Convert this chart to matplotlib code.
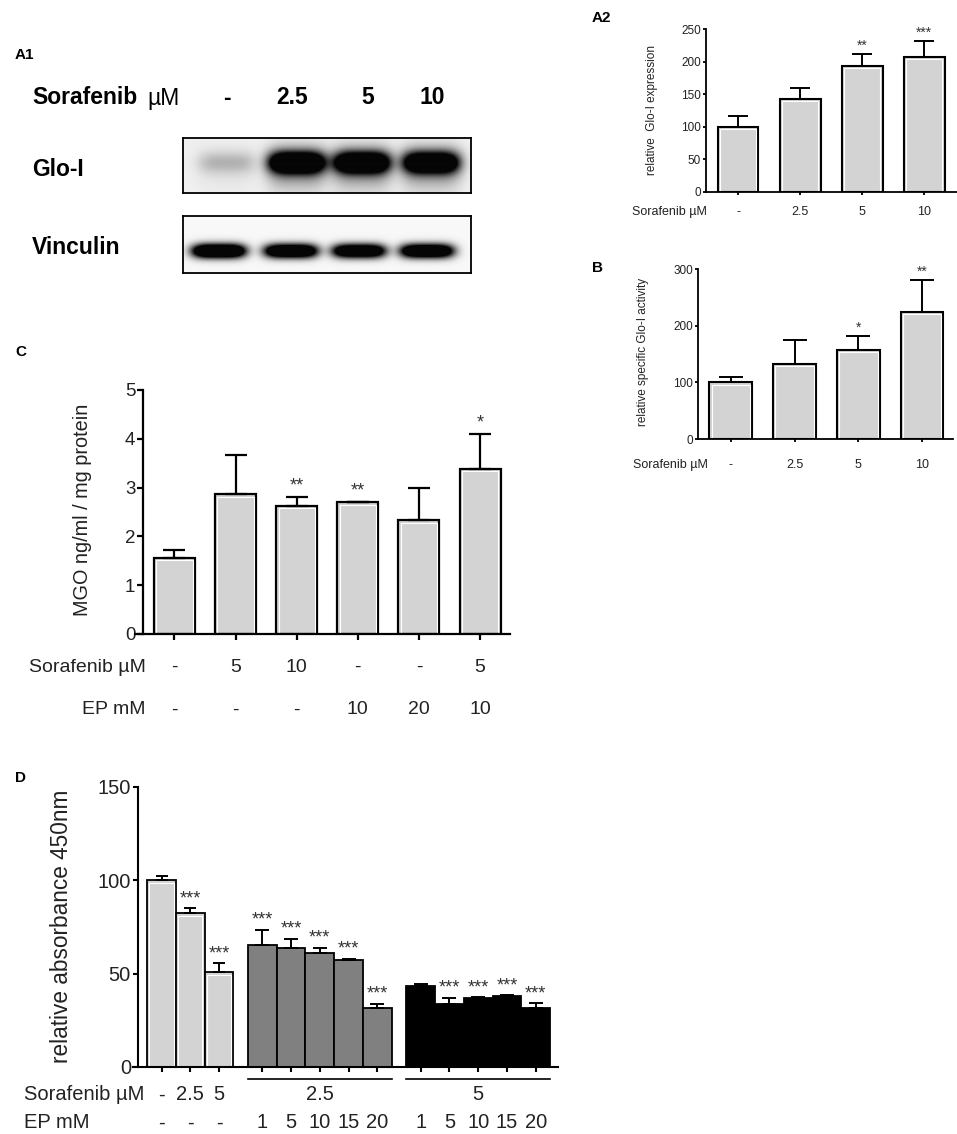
import numpy as np
import matplotlib
matplotlib.use('Agg')
import matplotlib.pyplot as plt
from matplotlib import transforms

plt.rcParams['font.family'] = ['Liberation Sans', 'DejaVu Sans']

# ---------------- data ----------------
a1_lanes = ["-", "2.5", "5", "10"]
glo_band_intensity = [0.13, 1.0, 0.97, 0.93]
vinculin_band_intensity = [1.0, 0.92, 0.88, 0.92]

a2_labels = ["-", "2.5", "5", "10"]
a2_mean = [100, 143, 194, 207]
a2_sem = [16, 16, 18, 25]
a2_sig = ["", "", "**", "***"]

b_labels = ["-", "2.5", "5", "10"]
b_mean = [100, 133, 157, 224]
b_sem = [9, 41, 25, 57]
b_sig = ["", "", "*", "**"]

c_sorafenib = ["-", "5", "10", "-", "-", "5"]
c_ep = ["-", "-", "-", "10", "20", "10"]
c_mean = [1.56, 2.86, 2.62, 2.70, 2.33, 3.38]
c_sem = [0.16, 0.81, 0.18, 0.0, 0.67, 0.72]
c_sig = ["", "", "**", "**", "", "*"]

d_g1_sorafenib = ["-", "2.5", "5"]
d_g1_ep = ["-", "-", "-"]
d_g1_mean = [100, 82.3, 50.7]
d_g1_sem = [2.5, 2.7, 5.0]
d_g1_sig = ["", "***", "***"]

d_g2_sorafenib = "2.5"
d_g2_ep = ["1", "5", "10", "15", "20"]
d_g2_mean = [65.3, 63.7, 61.2, 57.3, 31.4]
d_g2_sem = [8.3, 5.0, 2.7, 0.7, 2.5]
d_g2_sig = ["***", "***", "***", "***", "***"]

d_g3_sorafenib = "5"
d_g3_ep = ["1", "5", "10", "15", "20"]
d_g3_mean = [43.6, 33.6, 36.8, 38.0, 31.8]
d_g3_sem = [0.7, 3.5, 0.5, 0.4, 2.3]
d_g3_sig = ["", "***", "***", "***", "***"]

# ---------------- figure helpers ----------------
W, H = 957, 1134
fig = plt.figure(figsize=(W / 100, H / 100), dpi=100)
PX = 0.72  # points per pixel


def fx(x):
    return x / W


def fy(y):
    return 1 - y / H


def axes_px(x0, y_top, x1, y_bot):
    return fig.add_axes([fx(x0), fy(y_bot), (x1 - x0) / W, (y_bot - y_top) / H])


def style(ax, lw, fs, ylen, ypad):
    for s in ['top', 'right']:
        ax.spines[s].set_visible(False)
    for s in ['left', 'bottom']:
        ax.spines[s].set_linewidth(lw)
        ax.spines[s].set_zorder(5)
    ax.tick_params(axis='y', width=lw, length=ylen, pad=ypad, labelsize=fs,
                   labelcolor='#222222')
    ax.tick_params(axis='x', width=lw, length=ylen, labelbottom=False)


def inner_outline(ax, xs, vals, width, inset_px=2.3, lw=0.8):
    pos = ax.get_position()
    x0, x1 = ax.get_xlim()
    y0, y1 = ax.get_ylim()
    dx = inset_px * (x1 - x0) / (pos.width * W)
    dy = inset_px * (y1 - y0) / (pos.height * H)
    for x, v in zip(xs, vals):
        ax.plot([x - width / 2 + dx, x - width / 2 + dx, x + width / 2 - dx, x + width / 2 - dx],
                [dy, v - dy, v - dy, dy], color='white', lw=lw, zorder=3,
                solid_joinstyle='miter')


def bars(ax, xs, mean, sem, width, color, lw, capsize, elw, outline=True):
    ax.bar(xs, mean, width=width, color=color, edgecolor='black', linewidth=lw, zorder=2)
    if outline:
        inner_outline(ax, xs, mean, width)
    ax.errorbar(xs, mean, yerr=[np.zeros(len(mean)), sem], fmt='none', ecolor='black',
                elinewidth=elw, capsize=capsize, capthick=elw, zorder=4)


def stars(ax, xs, mean, sem, sig, fs, off_px, color='#333333'):
    for x, m, s, lab in zip(xs, mean, sem, sig):
        if lab:
            ax.annotate(lab, (x, m + s), xytext=(0, off_px * PX - 0.58 * fs),
                        textcoords='offset points', ha='center', va='baseline',
                        fontsize=fs, color=color, annotation_clip=False)


def row_text(ax, xs, labels, y_px, fs, color='#222222'):
    tr = transforms.blended_transform_factory(ax.transData, fig.transFigure)
    for x, lab in zip(xs, labels):
        ax.text(x, fy(y_px), lab, transform=tr, ha='center', va='center', fontsize=fs,
                color=color, clip_on=False)


# ---------------- panel labels ----------------
for lab, x, y in [("A1", 15, 55), ("A2", 592, 18), ("B", 592, 268), ("C", 15, 352), ("D", 15, 778)]:
    fig.text(fx(x), fy(y), lab, fontsize=11, fontweight='bold', ha='left', va='center')

# ---------------- A1 western blot ----------------
fig.text(fx(32), fy(98), "Sorafenib", fontsize=16.5, fontweight='bold', ha='left', va='center')
fig.text(fx(147), fy(98), "µM", fontsize=16.5, ha='left', va='center')
for lab, x in zip(a1_lanes, [227, 292, 368, 432]):
    fig.text(fx(x), fy(98), lab, fontsize=16.5, fontweight='bold', ha='center', va='center')
fig.text(fx(32), fy(170), "Glo-I", fontsize=16.5, fontweight='bold', ha='left', va='center')
fig.text(fx(32), fy(247), "Vinculin", fontsize=16.5, fontweight='bold', ha='left', va='center')


def blot(x0, x1, y_top, y_bot, lane_x, intens, band_cy, half_w, half_h, bg, gain, smear):
    w = x1 - x0
    h = y_bot - y_top
    X, Y = np.meshgrid(np.arange(w) + 0.5, np.arange(h) + 0.5)
    dark = np.zeros_like(X)
    for cx, a in zip(lane_x, intens):
        core = np.exp(-((X - (cx - x0)) / half_w) ** 4) * np.exp(-((Y - band_cy) / half_h) ** 2)
        tail = np.exp(-((X - (cx - x0)) / (half_w * 1.05)) ** 4) * np.exp(-((Y - band_cy - 6) / (half_h * 2.0)) ** 2)
        dark += a * (gain * core + smear * tail)
    img = bg - (bg - 0.02) * np.clip(dark, 0, 1)
    ax = axes_px(x0, y_top, x1, y_bot)
    ax.imshow(img, cmap='gray', vmin=0, vmax=1, aspect='auto', interpolation='bilinear')
    ax.set_xticks([])
    ax.set_yticks([])
    for s in ax.spines.values():
        s.set_linewidth(1.3)
    return ax


blot(183, 471, 138, 193, [227, 297, 362, 431], glo_band_intensity, 25, 28.5, 10.5, 0.94, 1.7, 0.4)
blot(183, 471, 216, 273, [219, 291, 359, 427], vinculin_band_intensity, 35, 27, 7.0, 0.97, 2.0, 0.0)

# ---------------- A2 ----------------
ax = axes_px(706, 29, 957, 192)
xs = np.arange(len(a2_mean))
ax.set_xlim(-0.516, 3.53)
ax.set_ylim(0, 250)
ax.set_yticks([0, 50, 100, 150, 200, 250])
style(ax, 1.3, 8.5, 2.5, 1)
ax.set_xticks(xs)
bars(ax, xs, a2_mean, a2_sem, 0.66, '#d3d3d3', 1.5, 7.5, 1.4)
stars(ax, xs, a2_mean, a2_sem, a2_sig, 10, 12)
row_text(ax, xs, a2_labels, 212, 9)
fig.text(fx(632), fy(212), "Sorafenib µM", fontsize=9, ha='left', va='center', color='#222222')
fig.text(fx(652), fy(110), "relative  Glo-I expression", fontsize=8.5, rotation=90,
         ha='center', va='center', color='#222222')

# ---------------- B ----------------
ax = axes_px(698, 269, 953, 439)
xs = np.arange(len(b_mean))
ax.set_xlim(-0.518, 3.487)
ax.set_ylim(0, 300)
ax.set_yticks([0, 100, 200, 300])
style(ax, 1.3, 8.5, 2.5, 1)
ax.set_xticks(xs)
bars(ax, xs, b_mean, b_sem, 0.675, '#d3d3d3', 1.5, 8.3, 1.4)
stars(ax, xs, b_mean, b_sem, b_sig, 10, 12)
row_text(ax, xs, b_labels, 465, 9)
fig.text(fx(633), fy(465), "Sorafenib µM", fontsize=9, ha='left', va='center', color='#222222')
fig.text(fx(643), fy(352), "relative specific Glo-I activity", fontsize=8.5, rotation=90,
         ha='center', va='center', color='#222222')

# ---------------- C ----------------
ax = axes_px(135, 390, 510, 634)
xs = np.arange(len(c_mean))
ax.set_xlim(-0.646, 5.49)
ax.set_ylim(0, 5)
ax.set_yticks([0, 1, 2, 3, 4, 5])
style(ax, 1.6, 13.5, 4, 1.5)
ax.spines['left'].set_position(('data', -0.516))
ax.set_xticks(xs)
bars(ax, xs, c_mean, c_sem, 0.67, '#d3d3d3', 1.6, 7.8, 1.6)
stars(ax, xs, c_mean, c_sem, c_sig, 13, 17)
row_text(ax, xs, c_sorafenib, 667, 14)
row_text(ax, xs, c_ep, 710, 14)
fig.text(fx(146), fy(667), "Sorafenib µM", fontsize=14, ha='right', va='center', color='#222222')
fig.text(fx(146), fy(710), "EP mM", fontsize=14, ha='right', va='center', color='#222222')
fig.text(fx(83), fy(510), "MGO ng/ml / mg protein", fontsize=14.3, rotation=90,
         ha='center', va='center', color='#222222')

# ---------------- D ----------------
ax = axes_px(133, 787, 558, 1067)
ax.set_xlim(-0.99, 13.77)
ax.set_ylim(0, 150)
ax.set_yticks([0, 50, 100, 150])
style(ax, 1.5, 14.5, 3.6, 1.5)
ax.spines['left'].set_position(('data', -0.816))
x1 = np.arange(3)
x2 = 3.5 + np.arange(5)
x3 = 9.0 + np.arange(5)
ax.set_xticks(np.concatenate([x1, x2, x3]))
bars(ax, x1, d_g1_mean, d_g1_sem, 1.0, '#d3d3d3', 1.3, 4.5, 1.4)
bars(ax, x2, d_g2_mean, d_g2_sem, 1.0, '#808080', 1.3, 5.2, 1.4, outline=False)
bars(ax, x3, d_g3_mean, d_g3_sem, 1.0, '#000000', 1.3, 5.2, 1.4, outline=False)
stars(ax, x1, d_g1_mean, d_g1_sem, d_g1_sig, 13, 15.5)
stars(ax, x2, d_g2_mean, d_g2_sem, d_g2_sig, 13, 15.5)
stars(ax, x3, d_g3_mean, d_g3_sem, d_g3_sig, 13, 15.5)
tr = transforms.blended_transform_factory(ax.transData, fig.transFigure)
for xg in (x2, x3):
    ax.plot([xg[0] - 0.5, xg[-1] + 0.5], [fy(1079)] * 2, transform=tr, color='black',
            lw=1.2, clip_on=False)
row_text(ax, x1, d_g1_sorafenib, 1095, 14.5)
row_text(ax, [x2.mean()], [d_g2_sorafenib], 1095, 14.5)
row_text(ax, [x3.mean()], [d_g3_sorafenib], 1095, 14.5)
row_text(ax, x1, d_g1_ep, 1123, 14.5)
row_text(ax, x2, d_g2_ep, 1123, 14.5)
row_text(ax, x3, d_g3_ep, 1123, 14.5)
fig.text(fx(24), fy(1095), "Sorafenib µM", fontsize=14.5, ha='left', va='center', color='#222222')
fig.text(fx(24), fy(1123), "EP mM", fontsize=14.5, ha='left', va='center', color='#222222')
fig.text(fx(62), fy(926), "relative absorbance 450nm", fontsize=16.3, rotation=90,
         ha='center', va='center', color='#222222')

fig.savefig("out.png", dpi=100)
